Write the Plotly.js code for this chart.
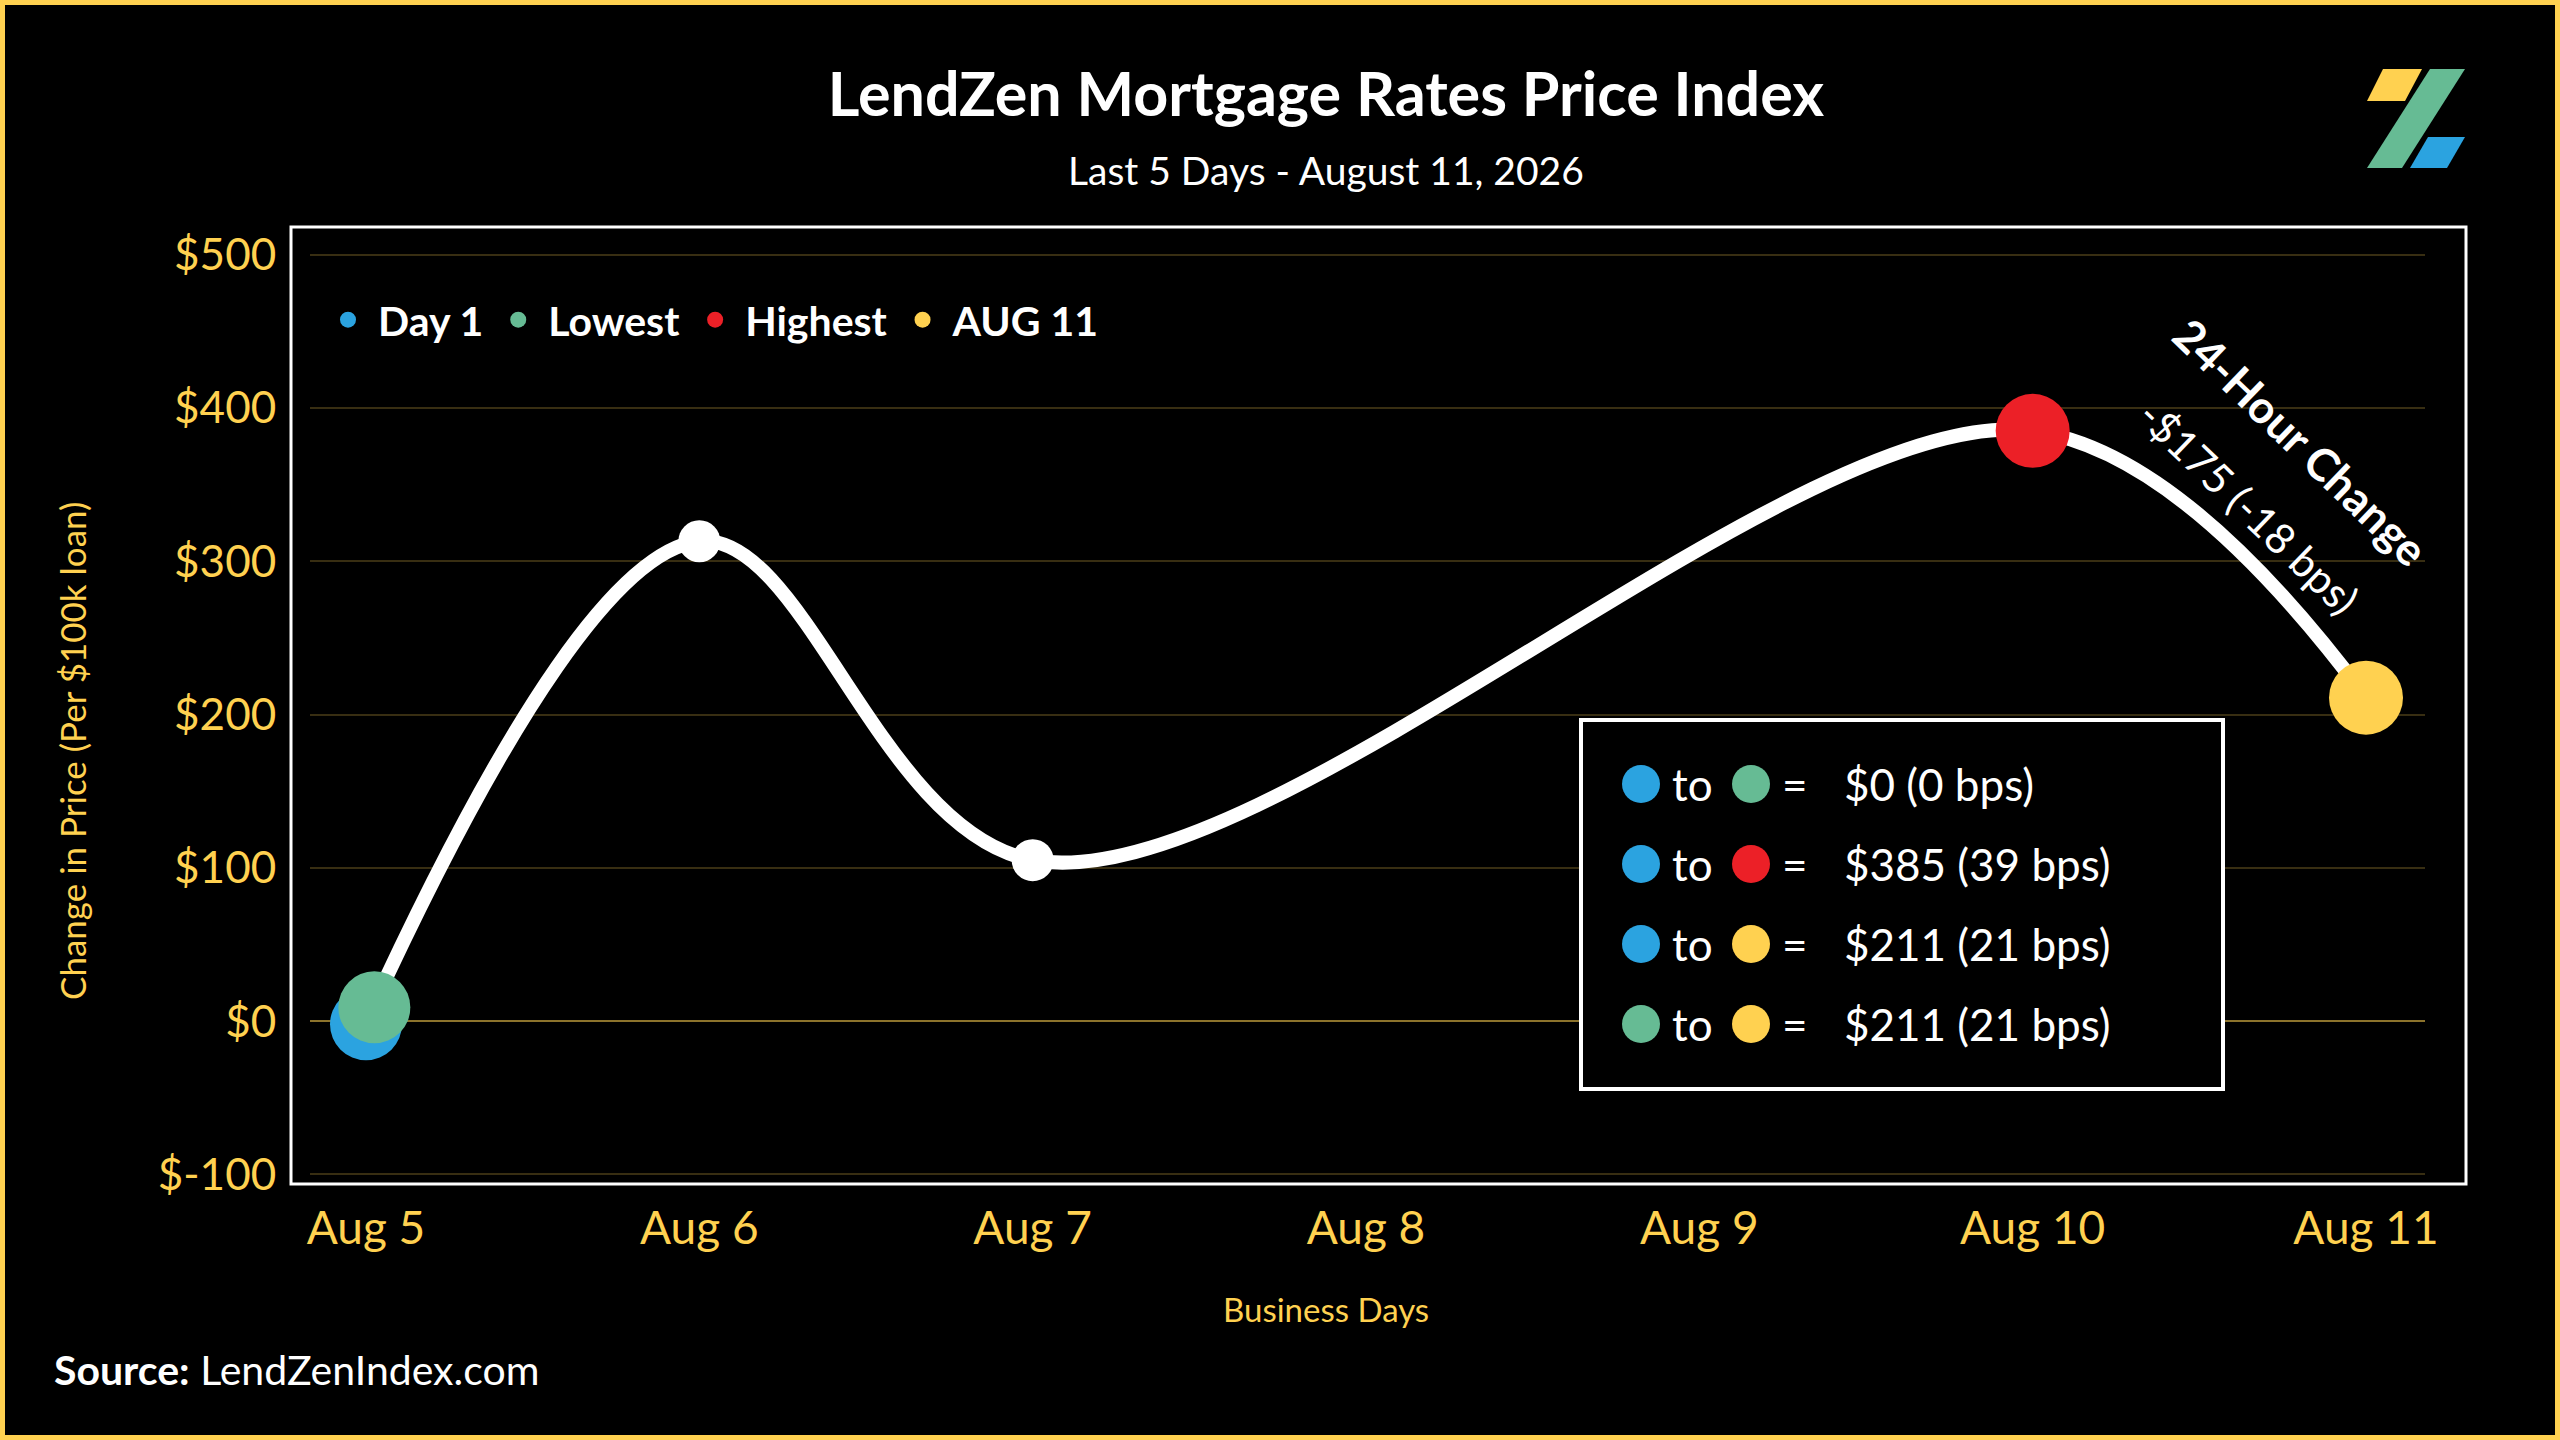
<!DOCTYPE html>
<html><head><meta charset="utf-8">
<script src="https://cdn.plot.ly/plotly-3.0.1.min.js"></script>
<style>html,body{margin:0;padding:0;background:#000;}#chart{width:2560px;height:1440px;}</style>
</head><body><div id="chart"></div>
<script>
// ---- data ----
const dayLabels = ['Aug 5','Aug 6','Aug 7','Aug 8','Aug 9','Aug 10','Aug 11'];
const dayPos = [0,1,2,3,4,5,6];
const priceDays = [0,1,2,5,6];
const priceValues = [0,313,105,385,211];
const yTickVals = [-100,0,100,200,300,400,500];
const yTickText = ['$-100','$0','$100','$200','$300','$400','$500'];
const keyNames = ['Day 1','Lowest','Highest','AUG 11'];
const keyX = [0,0.025,5,6];
const keyY = [-2,9,385,211];
const keyColors = ['#2BA3E0','#66BB94','#EC2027','#FFD150'];
const compFrom = [0,0,0,1];
const compTo = [1,2,3,3];
const compText = ['$0 (0 bps)','$385 (39 bps)','$211 (21 bps)','$211 (21 bps)'];
const titleText = 'LendZen Mortgage Rates Price Index';
const subtitleText = 'Last 5 Days - August 11, 2026';
const xTitleText = 'Business Days';
const yTitleText = 'Change in Price (Per $100k loan)';
const changeTitle = '24-Hour Change';
const changeText = '-$175 (-18 bps)';

// ---- geometry helpers (pixel -> paper) ----
const W = 2560, H = 1440, L = 310, R = 2425, T = 253, B = 1176;
const px = x => (x - L) / (R - L);
const py = y => (B - y) / (B - T);
const YEL = '#FFD150', FONT = 'Lato, "Open Sans", sans-serif';

const traces = [{
  x: priceDays, y: priceValues, mode: 'lines+markers', showlegend: false,
  line: {color: '#fff', width: 14, shape: 'spline', smoothing: 1},
  marker: {size: 42, color: '#fff'}, cliponaxis: false, hoverinfo: 'skip'
}];
const keySizes = [72, 72, 74, 74];
keyNames.forEach((n, i) => traces.push({
  x: [keyX[i]], y: [keyY[i]], mode: 'markers', name: n,
  marker: {size: keySizes[i], color: keyColors[i]}, cliponaxis: false
}));

const shapes = [
  {type: 'rect', xref: 'paper', yref: 'paper', x0: px(291), x1: px(2466), y0: py(1184), y1: py(227),
   line: {color: '#fff', width: 3}, layer: 'below'},
  {type: 'rect', xref: 'paper', yref: 'paper', x0: px(2.5), x1: px(2557.5), y0: py(1437.5), y1: py(2.5),
   line: {color: YEL, width: 5}, layer: 'above'},
  {type: 'rect', xref: 'paper', yref: 'paper', x0: px(1581), x1: px(2223), y0: py(1089), y1: py(720),
   line: {color: '#fff', width: 4}, fillcolor: '#000', layer: 'above'}
];
function poly(pts, color) {
  const d = pts.map((p, k) => (k ? 'L' : 'M') + px(p[0]) + ',' + py(p[1])).join(' ') + ' Z';
  shapes.push({type: 'path', xref: 'paper', yref: 'paper', path: d, fillcolor: color, line: {width: 0}, layer: 'above'});
}
poly([[2383,69],[2422,69],[2405,101],[2367,101]], YEL);
poly([[2430,69],[2465,69],[2402,168],[2367,168]], '#66BB94');
poly([[2428,137],[2465,137],[2447,168],[2410,168]], '#2BA3E0');

const annotations = [
  {text: subtitleText, xref: 'paper', yref: 'paper', x: px(1326), y: py(170), xanchor: 'center', yanchor: 'middle',
   showarrow: false, font: {family: FONT, size: 39, color: '#fff'}},
  {text: xTitleText, xref: 'paper', yref: 'paper', x: px(1326), y: py(1309), xanchor: 'center', yanchor: 'middle',
   showarrow: false, font: {family: FONT, size: 33, color: YEL}},
  {text: yTitleText, xref: 'paper', yref: 'paper', x: px(72), y: py(751), xanchor: 'center', yanchor: 'middle',
   showarrow: false, textangle: -90, font: {family: FONT, size: 35, color: YEL}},
  {text: '<b>Source:</b> LendZenIndex.com', xref: 'paper', yref: 'paper', x: px(52), y: py(1369), xanchor: 'left', yanchor: 'middle',
   showarrow: false, font: {family: FONT, size: 41, color: '#fff'}},
  {text: '<b>' + changeTitle + '</b>', xref: 'paper', yref: 'paper', x: px(2301), y: py(442), xanchor: 'center', yanchor: 'middle',
   showarrow: false, textangle: 44, font: {family: FONT, size: 45, color: '#fff'}},
  {text: changeText, xref: 'paper', yref: 'paper', x: px(2249), y: py(507), xanchor: 'center', yanchor: 'middle',
   showarrow: false, textangle: 44, font: {family: FONT, size: 42, color: '#fff'}}
];
compText.forEach((t, i) => {
  const yy = 784 + 80 * i;
  [[1641, compFrom[i]], [1751, compTo[i]]].forEach(([cx, ci]) => shapes.push({
    type: 'circle', xref: 'paper', yref: 'paper', xsizemode: 'pixel', ysizemode: 'pixel',
    xanchor: px(cx), yanchor: py(yy), x0: -19, x1: 19, y0: -19, y1: 19,
    fillcolor: keyColors[ci], line: {width: 0}, layer: 'above'}));
  const f = {family: FONT, size: 44, color: '#fff'};
  annotations.push({text: 'to', xref: 'paper', yref: 'paper', x: px(1693), y: py(yy), xanchor: 'center', yanchor: 'middle', showarrow: false, font: f});
  annotations.push({text: '=', xref: 'paper', yref: 'paper', x: px(1795), y: py(yy), xanchor: 'center', yanchor: 'middle', showarrow: false, font: f});
  annotations.push({text: t, xref: 'paper', yref: 'paper', x: px(1842), y: py(yy), xanchor: 'left', yanchor: 'middle', showarrow: false, font: f});
});

const layout = {
  width: W, height: H,
  paper_bgcolor: '#000', plot_bgcolor: '#000',
  margin: {l: L, r: W - R, t: T, b: H - B, pad: 0},
  title: {text: titleText, x: 1326 / W, xref: 'container', xanchor: 'center', y: 1 - 95 / H, yref: 'container', yanchor: 'middle',
          font: {family: FONT, size: 61, color: '#fff', weight: 700}},
  xaxis: {range: [-0.168, 6.177], tickvals: dayPos, ticktext: dayLabels, showgrid: false, zeroline: false, showline: false,
          ticks: 'outside', ticklen: 12, tickcolor: 'rgba(0,0,0,0)', tickfont: {family: FONT, size: 46, color: YEL}},
  yaxis: {range: [-101, 501], tickvals: yTickVals, ticktext: yTickText, showgrid: true, gridcolor: 'rgba(255,209,80,0.22)', gridwidth: 2,
          zeroline: true, zerolinecolor: 'rgba(255,209,80,0.55)', zerolinewidth: 2, showline: false,
          ticks: 'outside', ticklen: 24, tickcolor: 'rgba(0,0,0,0)', tickfont: {family: FONT, size: 44, color: YEL}},
  legend: {orientation: 'h', x: px(318), xanchor: 'left', y: py(320), yanchor: 'middle', bgcolor: 'rgba(0,0,0,0)',
           font: {family: FONT, size: 41, color: '#fff', weight: 700}, itemsizing: 'trace', itemwidth: 50, traceorder: 'normal'},
  shapes: shapes, annotations: annotations, hovermode: false
};
Plotly.newPlot('chart', traces, layout, {displayModeBar: false, staticPlot: true});
</script></body></html>
